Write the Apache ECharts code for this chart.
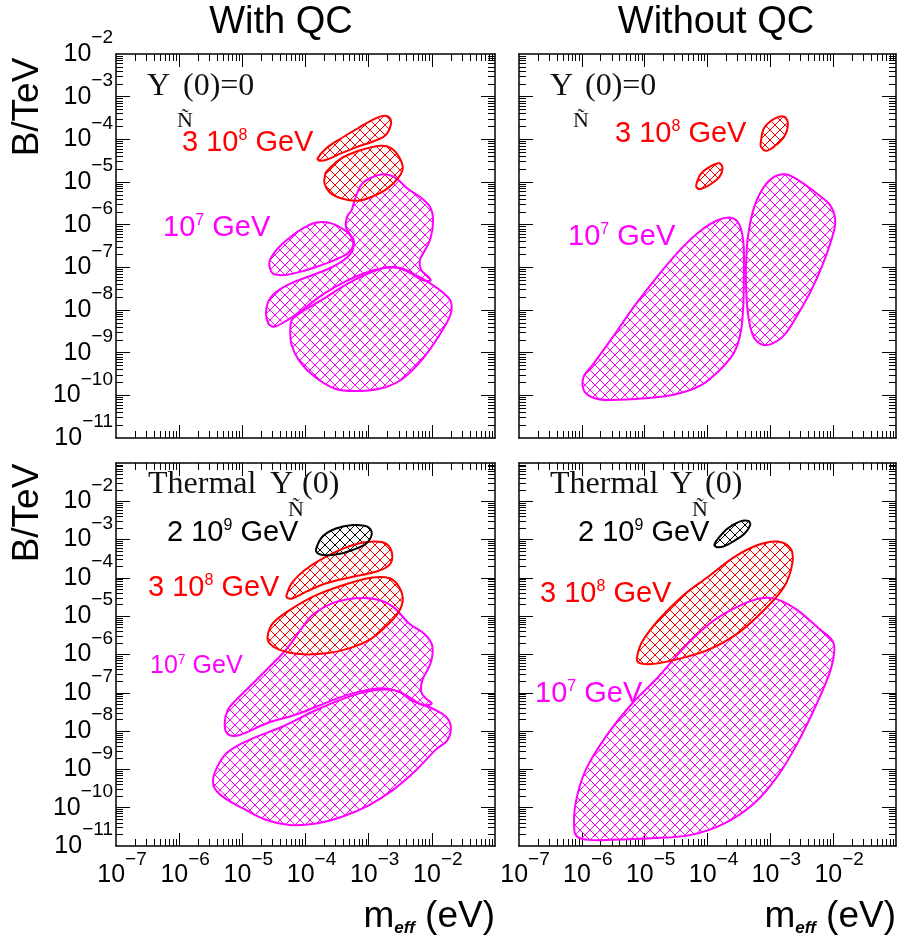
<!DOCTYPE html>
<html>
<head>
<meta charset="utf-8">
<script src="https://cdn.jsdelivr.net/npm/echarts@6/dist/echarts.min.js"></script>
<style>
  html, body { margin: 0; padding: 0; background: #fff; }
  #chart { width: 897px; height: 944px; }
</style>
</head>
<body>
<div id="chart"></div>
<script>
// ---- axis decades (log10) ----
const xRangeExps = [-7, -1];
const yRangeTopExps = [-11, -2];
const yRangeBottomExps = [-11, -1];
const xLabelExps = [-7, -6, -5, -4, -3, -2];
const yLabelExps = [-11, -10, -9, -8, -7, -6, -5, -4, -3, -2];

// ---- allowed regions, points as [log10(m_eff / eV), log10(B / TeV)] ----
// With QC, Y(0)=0
const tlRed1 = [[-3.81,-4.45],[-3.67,-4.21],[-3.44,-3.98],[-3.17,-3.74],[-2.96,-3.56],[-2.78,-3.45],[-2.67,-3.49],[-2.65,-3.66],[-2.73,-3.90],[-2.91,-4.04],[-3.17,-4.17],[-3.44,-4.33],[-3.67,-4.48],[-3.78,-4.50]];
const tlRed2 = [[-3.67,-4.76],[-3.44,-4.45],[-3.12,-4.25],[-2.81,-4.15],[-2.65,-4.20],[-2.52,-4.41],[-2.46,-4.68],[-2.52,-4.88],[-2.70,-5.15],[-2.94,-5.34],[-3.17,-5.44],[-3.44,-5.38],[-3.62,-5.24],[-3.70,-5.03],[-3.69,-4.84]];
const tlMag1 = [[-3.23,-5.46],[-3.12,-5.07],[-2.96,-4.90],[-2.75,-4.82],[-2.57,-4.91],[-2.38,-5.16],[-2.17,-5.37],[-2.03,-5.58],[-1.98,-5.89],[-2.02,-6.32],[-2.12,-6.63],[-2.19,-6.83],[-2.17,-7.06],[-2.07,-7.20],[-2.02,-7.31],[-2.15,-7.30],[-2.33,-7.14],[-2.54,-7.01],[-2.75,-7.01],[-3.07,-7.14],[-3.38,-7.34],[-3.70,-7.61],[-4.02,-7.96],[-4.28,-8.23],[-4.49,-8.39],[-4.59,-8.31],[-4.62,-7.96],[-4.52,-7.65],[-4.28,-7.41],[-3.96,-7.22],[-3.60,-7.01],[-3.33,-6.75],[-3.24,-6.52],[-3.28,-6.28],[-3.36,-6.05],[-3.34,-5.81],[-3.27,-5.66]];
const tlMag2 = [[-4.57,-6.87],[-4.44,-6.56],[-4.23,-6.28],[-4.02,-6.07],[-3.83,-5.95],[-3.59,-5.97],[-3.38,-6.13],[-3.25,-6.32],[-3.24,-6.48],[-3.33,-6.67],[-3.54,-6.83],[-3.81,-6.98],[-4.07,-7.10],[-4.33,-7.18],[-4.52,-7.14]];
const tlMag3 = [[-4.24,-8.43],[-4.20,-8.20],[-3.75,-7.77],[-3.23,-7.30],[-2.75,-7.01],[-2.49,-7.02],[-2.28,-7.16],[-2.02,-7.38],[-1.81,-7.61],[-1.70,-7.80],[-1.70,-8.08],[-1.83,-8.47],[-2.02,-8.90],[-2.23,-9.29],[-2.49,-9.64],[-2.81,-9.84],[-3.23,-9.90],[-3.54,-9.84],[-3.86,-9.56],[-4.09,-9.21],[-4.22,-8.82]];
// Without QC, Y(0)=0
const trRed1 = [[-3.15,-4.05],[-3.10,-3.74],[-2.94,-3.52],[-2.78,-3.47],[-2.72,-3.63],[-2.78,-3.94],[-2.94,-4.17],[-3.07,-4.27],[-3.15,-4.17]];
const trRed2 = [[-4.18,-5.07],[-4.10,-4.80],[-3.94,-4.62],[-3.81,-4.56],[-3.76,-4.68],[-3.81,-4.88],[-3.97,-5.07],[-4.10,-5.16],[-4.16,-5.15]];
const trMag1 = [[-5.97,-9.56],[-5.83,-9.29],[-5.52,-8.66],[-5.15,-7.88],[-4.78,-7.18],[-4.41,-6.55],[-4.10,-6.13],[-3.83,-5.89],[-3.62,-5.84],[-3.49,-6.01],[-3.43,-6.40],[-3.42,-6.95],[-3.43,-7.88],[-3.47,-8.51],[-3.57,-8.98],[-3.78,-9.37],[-4.10,-9.76],[-4.52,-9.98],[-4.99,-10.07],[-5.57,-10.11],[-5.83,-10.05],[-5.97,-9.88]];
const trMag2 = [[-3.38,-6.71],[-3.36,-6.32],[-3.28,-5.70],[-3.15,-5.23],[-2.97,-4.91],[-2.76,-4.82],[-2.52,-4.99],[-2.26,-5.27],[-2.05,-5.54],[-1.97,-5.85],[-1.99,-6.16],[-2.15,-6.87],[-2.36,-7.57],[-2.57,-8.12],[-2.78,-8.59],[-2.99,-8.80],[-3.15,-8.80],[-3.28,-8.59],[-3.36,-8.04],[-3.39,-7.26]];
// With QC, thermal Y(0)
const blBlack = [[-3.83,-3.23],[-3.73,-2.92],[-3.52,-2.71],[-3.25,-2.62],[-3.02,-2.66],[-2.95,-2.84],[-3.04,-3.10],[-3.25,-3.27],[-3.52,-3.39],[-3.73,-3.40],[-3.82,-3.34]];
const blRed1 = [[-4.30,-4.45],[-4.20,-4.10],[-3.94,-3.71],[-3.57,-3.36],[-3.25,-3.14],[-2.94,-3.05],[-2.73,-3.10],[-2.63,-3.36],[-2.67,-3.66],[-2.89,-3.84],[-3.25,-3.97],[-3.67,-4.14],[-3.99,-4.36],[-4.20,-4.53],[-4.28,-4.53]];
const blRed2 = [[-4.60,-5.53],[-4.52,-5.19],[-4.25,-4.84],[-3.83,-4.45],[-3.31,-4.14],[-2.94,-3.99],[-2.67,-4.01],[-2.52,-4.23],[-2.46,-4.58],[-2.54,-4.93],[-2.73,-5.27],[-2.99,-5.62],[-3.31,-5.84],[-3.67,-5.97],[-4.10,-5.99],[-4.41,-5.88],[-4.57,-5.71]];
const blMag1 = [[-3.89,-4.97],[-3.57,-4.66],[-3.20,-4.53],[-2.89,-4.56],[-2.62,-4.75],[-2.36,-5.19],[-2.10,-5.49],[-1.99,-5.80],[-2.02,-6.23],[-2.15,-6.67],[-2.17,-6.97],[-2.10,-7.14],[-2.00,-7.28],[-2.10,-7.32],[-2.31,-7.21],[-2.52,-6.97],[-2.78,-6.88],[-3.15,-6.97],[-3.57,-7.19],[-4.10,-7.54],[-4.62,-7.80],[-5.04,-8.10],[-5.23,-8.08],[-5.28,-7.80],[-5.23,-7.45],[-5.10,-7.19],[-4.83,-6.75],[-4.57,-6.32],[-4.31,-5.88],[-4.04,-5.27]];
const blMag2 = [[-5.45,-9.45],[-5.44,-9.10],[-5.25,-8.58],[-4.89,-8.23],[-4.36,-7.88],[-3.83,-7.45],[-3.31,-7.10],[-2.89,-6.93],[-2.62,-6.93],[-2.41,-7.06],[-2.20,-7.28],[-1.99,-7.41],[-1.78,-7.62],[-1.70,-7.88],[-1.75,-8.23],[-1.94,-8.49],[-2.25,-9.02],[-2.62,-9.54],[-2.99,-9.93],[-3.41,-10.23],[-3.83,-10.41],[-4.25,-10.45],[-4.62,-10.32],[-4.99,-10.02],[-5.31,-9.71]];
// Without QC, thermal Y(0)
const brBlack = [[-3.89,-3.14],[-3.83,-2.97],[-3.68,-2.71],[-3.49,-2.53],[-3.35,-2.51],[-3.32,-2.62],[-3.41,-2.84],[-3.57,-3.03],[-3.73,-3.17],[-3.84,-3.20]];
const brRed = [[-5.12,-6.06],[-5.04,-5.67],[-4.78,-5.10],[-4.41,-4.49],[-3.99,-3.97],[-3.57,-3.45],[-3.20,-3.14],[-2.89,-3.05],[-2.68,-3.23],[-2.65,-3.62],[-2.78,-4.23],[-3.10,-4.84],[-3.52,-5.45],[-3.99,-5.88],[-4.52,-6.14],[-4.89,-6.25],[-5.10,-6.21]];
const brMag = [[-6.12,-10.58],[-6.10,-9.89],[-5.94,-9.02],[-5.62,-8.15],[-5.20,-7.28],[-4.78,-6.58],[-4.31,-5.71],[-3.89,-5.10],[-3.47,-4.71],[-3.15,-4.53],[-2.89,-4.56],[-2.57,-4.84],[-2.20,-5.36],[-2.02,-5.62],[-1.98,-5.88],[-2.04,-6.40],[-2.26,-7.28],[-2.57,-8.32],[-2.89,-9.19],[-3.26,-9.89],[-3.73,-10.41],[-4.26,-10.71],[-4.89,-10.80],[-5.52,-10.84],[-5.89,-10.84],[-6.07,-10.76]];

const RED = '#ff0000', MAG = '#ff00ff', BLK = '#000000';
const SANS = '"Liberation Sans", Arial, sans-serif';
const SERIF = '"Liberation Serif", "Times New Roman", serif';

// cross-hatch fill pattern (diagonal grid) in a given colour
function hatch(color) {
  const s = 10;
  const c = document.createElement('canvas');
  c.width = s; c.height = s;
  const g = c.getContext('2d');
  g.strokeStyle = color;
  g.lineWidth = 1;
  for (let k = -1; k <= 1; k++) {
    g.beginPath(); g.moveTo(k * s - 1, -1); g.lineTo(k * s + s + 1, s + 1); g.stroke();
    g.beginPath(); g.moveTo(k * s + s + 1, -1); g.lineTo(k * s - 1, s + 1); g.stroke();
  }
  return { image: c, repeat: 'repeat' };
}
const hatchOf = { [RED]: hatch(RED), [MAG]: hatch(MAG), [BLK]: hatch(BLK) };

const pow10 = e => Math.pow(10, e);
function decadeValues(lo, hi) { const v = []; for (let e = lo + 1; e < hi; e++) v.push(pow10(e)); return v; }
function minorValues(lo, hi) { const v = []; for (let e = lo; e < hi; e++) for (let k = 2; k <= 9; k++) v.push(k * pow10(e)); return v; }
// label positions, nudged a hair inside the axis range so the end decades are kept
const labelValues = (exps, lo, hi) => exps.map(e => pow10(e) * (e === lo ? 1.000001 : e === hi ? 0.999999 : 1));

const labelRich = {
  b: { fontFamily: SANS, fontSize: 25, lineHeight: 51, color: '#000', verticalAlign: 'middle' },
  e: { fontFamily: SANS, fontSize: 19, color: '#000', verticalAlign: 'middle', padding: [0, 0, 32, 0] }
};
const powLabel = v => '{b|10}{e|\u2212' + Math.abs(Math.round(Math.log10(v))) + '}';

const panels = [
  { grid: { left: 116, top: 54, width: 379, height: 384 }, yr: yRangeTopExps, xLab: false, yLab: true,
    regions: [[tlMag1, MAG], [tlMag2, MAG], [tlMag3, MAG], [tlRed2, RED], [tlRed1, RED]] },
  { grid: { left: 519, top: 54, width: 377, height: 384 }, yr: yRangeTopExps, xLab: false, yLab: false,
    regions: [[trMag1, MAG], [trMag2, MAG], [trRed2, RED], [trRed1, RED]] },
  { grid: { left: 116, top: 463, width: 379, height: 383 }, yr: yRangeBottomExps, xLab: true, yLab: true,
    regions: [[blMag2, MAG], [blMag1, MAG], [blRed2, RED], [blRed1, RED], [blBlack, BLK]] },
  { grid: { left: 519, top: 463, width: 377, height: 383 }, yr: yRangeBottomExps, xLab: true, yLab: false,
    regions: [[brMag, MAG], [brRed, RED], [brBlack, BLK]] }
];

const xAxes = [], yAxes = [], series = [];
const line = { show: true, onZero: false, lineStyle: { color: '#000', width: 1.5 } };

panels.forEach((p, gi) => {
  const [xlo, xhi] = xRangeExps, [ylo, yhi] = p.yr;
  const xMaj = decadeValues(xlo, xhi), xMin = minorValues(xlo, xhi);
  const yMaj = decadeValues(ylo, yhi), yMin = minorValues(ylo, yhi);
  const xBase = { type: 'log', logBase: 10, gridIndex: gi, min: pow10(xlo), max: pow10(xhi),
    splitLine: { show: false }, minorTick: { show: false }, minorSplitLine: { show: false } };
  const yBase = { type: 'log', logBase: 10, gridIndex: gi, min: pow10(ylo), max: pow10(yhi),
    splitLine: { show: false }, minorTick: { show: false }, minorSplitLine: { show: false } };
  const tick = (vals, len) => ({ show: true, inside: true, length: len, customValues: vals, lineStyle: { color: '#000', width: 1 } });
  const noLabel = { show: false };

  ['bottom', 'top'].forEach(pos => {
    xAxes.push(Object.assign({}, xBase, { position: pos, axisLine: line, axisTick: tick(xMaj, 13),
      axisLabel: (pos === 'bottom' && p.xLab) ? {
        show: true, customValues: labelValues(xLabelExps, xlo, xhi), formatter: powLabel, rich: labelRich,
        margin: 4, padding: [0, 0, 0, 12]
      } : noLabel }));
    xAxes.push(Object.assign({}, xBase, { position: pos, axisLine: { show: false }, axisTick: tick(xMin, 7), axisLabel: noLabel }));
  });
  ['left', 'right'].forEach(pos => {
    yAxes.push(Object.assign({}, yBase, { position: pos, axisLine: line, axisTick: tick(yMaj, 14),
      axisLabel: (pos === 'left' && p.yLab) ? {
        show: true, customValues: labelValues(yLabelExps, ylo, yhi), formatter: powLabel, rich: labelRich, margin: 3
      } : noLabel }));
    yAxes.push(Object.assign({}, yBase, { position: pos, axisLine: { show: false }, axisTick: tick(yMin, 7), axisLabel: noLabel }));
  });

  // hatched regions: all fills first, then their outlines on top
  const pts = [];
  p.regions.forEach(r => r[0].forEach(q => pts.push([pow10(q[0]), pow10(q[1])])));
  series.push({
    type: 'custom', xAxisIndex: gi * 4, yAxisIndex: gi * 4, silent: true, clip: false, z: 3,
    data: pts,
    renderItem: (params, api) => {
      if (params.dataIndex !== 0) return null;
      const fills = [], outlines = [];
      p.regions.forEach(([poly, color]) => {
        const shape = { points: poly.map(q => api.coord([pow10(q[0]), pow10(q[1])])), smooth: 0.35 };
        fills.push({ type: 'polygon', shape, style: { fill: hatchOf[color], stroke: null } });
        outlines.push({ type: 'polygon', shape, style: { fill: null, stroke: color, lineWidth: 2 } });
      });
      return { type: 'group', children: fills.concat(outlines) };
    }
  });
});

// free text: titles, axis names and region labels
const T = (x, y, text, font, fill, extra) => Object.assign({ type: 'text', x, y,
  style: Object.assign({ text, font, fill, align: 'left', verticalAlign: 'middle' }, extra || {}) });
const gevRich = size => ({
  n: { fontFamily: SANS, fontSize: size, lineHeight: size + 1, verticalAlign: 'middle' },
  s: { fontFamily: SANS, fontSize: Math.round(size * 0.55), lineHeight: Math.round(size * 0.55), verticalAlign: 'middle',
       padding: [0, 0, Math.round(size * 0.48), 0] }
});
const gev = (x, y, mant, exp, color, size) => ({ type: 'text', x, y, style: {
  text: (mant ? '{n|' + mant + ' 10}' : '{n|10}') + '{s|' + exp + '}{n| GeV}',
  rich: gevRich(size), fill: color, align: 'left', verticalAlign: 'middle' } });
const axisName = (x, y) => ({ type: 'text', x, y, style: {
  text: '{m|m}{s|eff}{t| (eV)}', align: 'right', verticalAlign: 'middle', fill: '#000',
  rich: {
    m: { fontFamily: SANS, fontSize: 37, lineHeight: 40, verticalAlign: 'middle' },
    s: { fontFamily: SANS, fontSize: 17, fontWeight: 'bold', fontStyle: 'italic', lineHeight: 18, padding: [22, 0, 0, 0], verticalAlign: 'middle' },
    t: { fontFamily: SANS, fontSize: 37, lineHeight: 40, verticalAlign: 'middle' }
  } } });
const yName = (x, y) => ({ type: 'text', x, y, rotation: Math.PI / 2,
  style: { text: 'B/TeV', font: '37px ' + SANS, fill: '#000', align: 'center', verticalAlign: 'middle' } });
const yTilde = (xY, xN, xP, y, yN, tail) => [
  T(xY, y, 'Y', '32px ' + SERIF, '#111'),
  T(xN, yN, '\u00D1', '22px ' + SERIF, '#111'),
  T(xP, y, tail, '32px ' + SERIF, '#111')
];

const graphic = [
  T(281, 23, 'With QC', '38px ' + SANS, '#000', { align: 'center' }),
  T(716, 23, 'Without QC', '38px ' + SANS, '#000', { align: 'center' }),
  yName(28, 107), yName(28, 513),
  axisName(495, 917), axisName(896, 917),
  ...yTilde(147, 177, 183, 87, 121, '(0)=0'),
  ...yTilde(550, 573, 585, 87, 121, '(0)=0'),
  T(148, 485, 'Thermal', '32px ' + SERIF, '#111'),
  ...yTilde(270, 288, 302, 485, 510, '(0)'),
  T(550, 485, 'Thermal', '32px ' + SERIF, '#111'),
  ...yTilde(670, 692, 705, 485, 510, '(0)'),
  gev(182, 143, '3', '8', RED, 29), gev(163, 228, '', '7', MAG, 29),
  gev(615, 134, '3', '8', RED, 29), gev(568, 237, '', '7', MAG, 29),
  gev(167, 533, '2', '9', BLK, 29), gev(148, 588, '3', '8', RED, 29), gev(150, 666, '', '7', MAG, 25),
  gev(578, 533, '2', '9', BLK, 29), gev(540, 594, '3', '8', RED, 29), gev(535, 694, '', '7', MAG, 29)
];

const chart = echarts.init(document.getElementById('chart'), null, { renderer: 'canvas' });
chart.setOption({
  animation: false,
  backgroundColor: '#fff',
  grid: panels.map(p => Object.assign({ containLabel: false }, p.grid)),
  xAxis: xAxes,
  yAxis: yAxes,
  series,
  graphic
});
</script>
</body>
</html>
